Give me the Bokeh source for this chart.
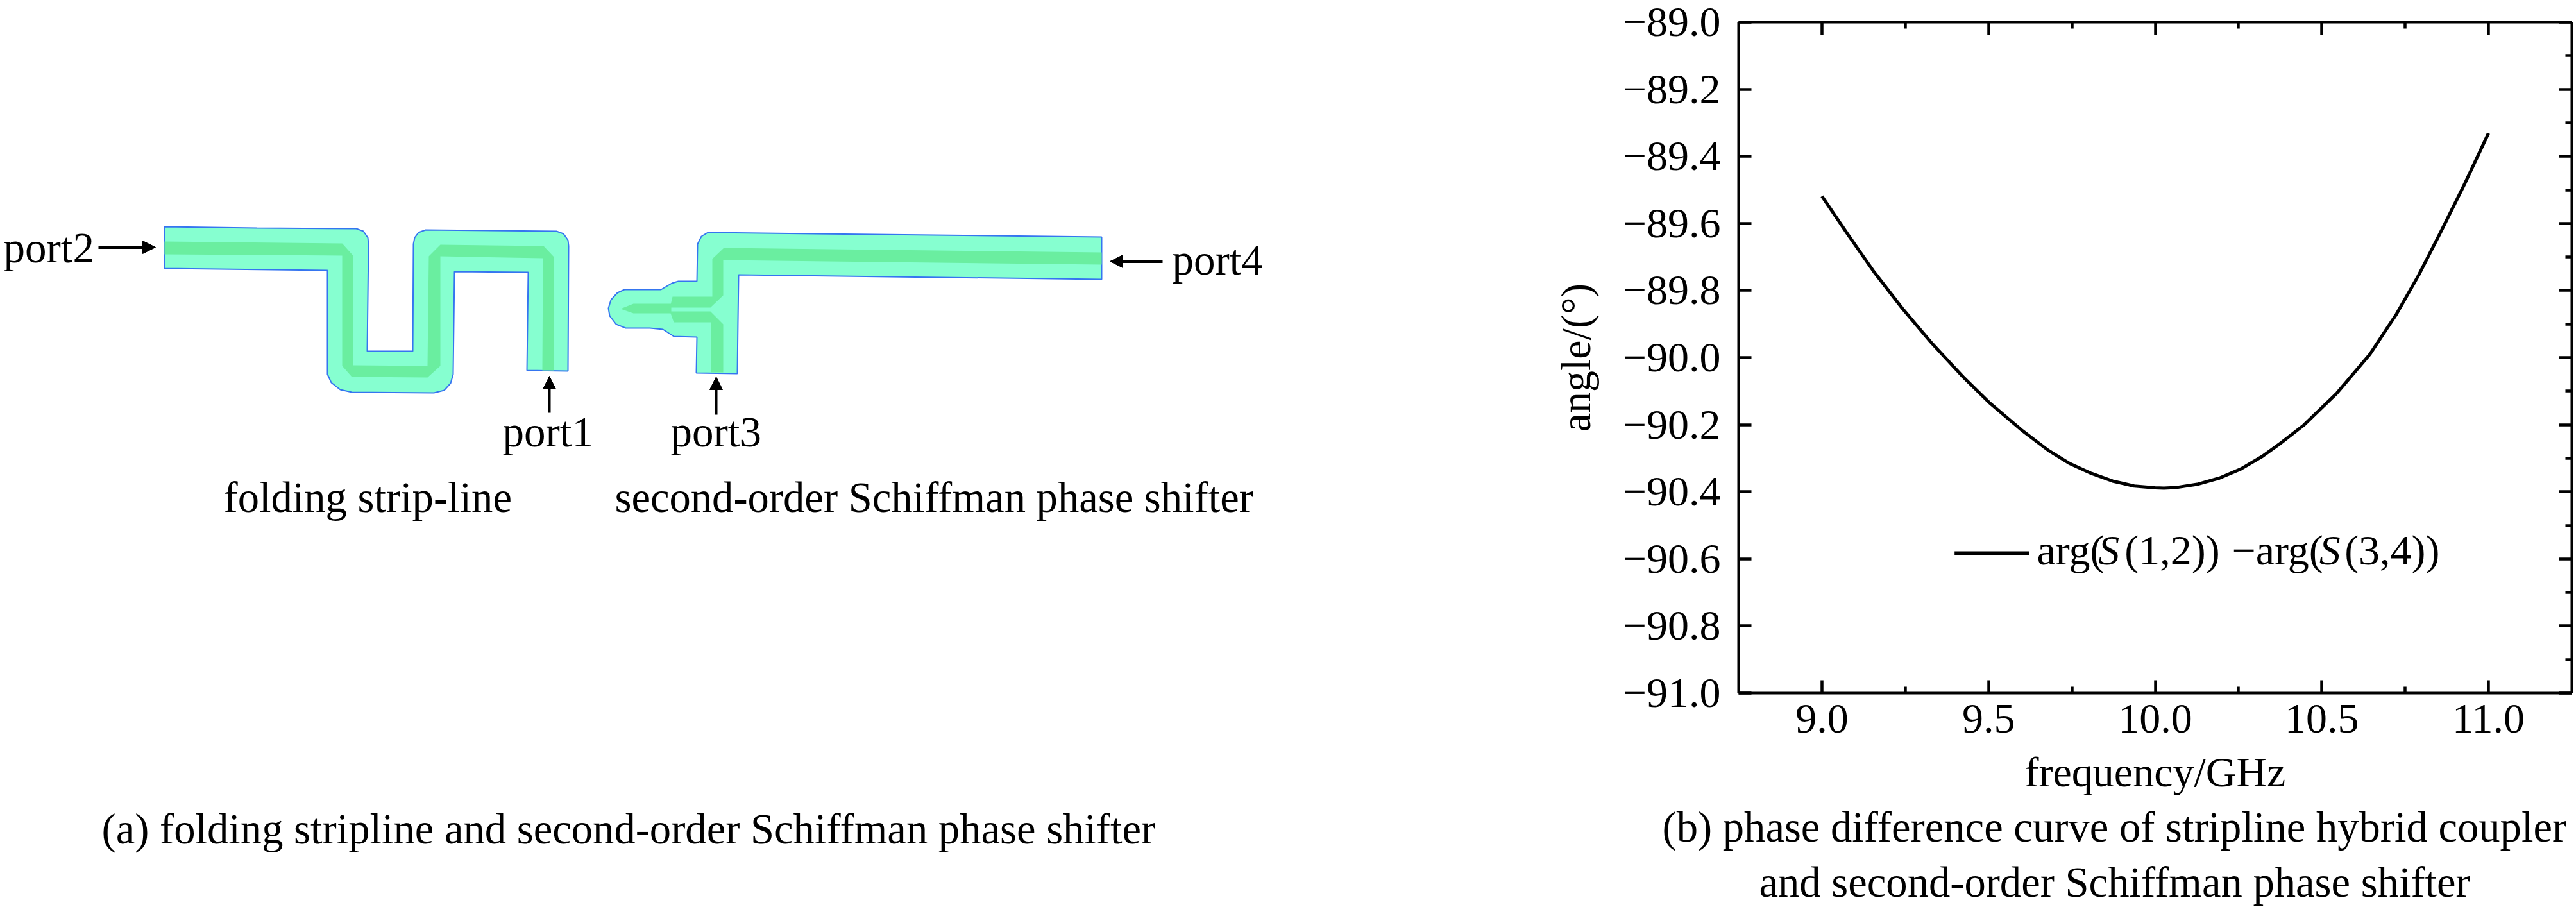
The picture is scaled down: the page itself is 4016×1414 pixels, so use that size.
from bokeh.embed import file_html
from bokeh.resources import INLINE
from bokeh.layouts import row
from bokeh.plotting import figure
from bokeh.core.properties import value
from bokeh.models import (Range1d, LinearAxis, FixedTicker, CustomJSTickFormatter,
                          Label, Arrow, NormalHead, Title)

# ---- curve data (panel b) ----
frequency = [9.0, 9.078, 9.156, 9.241, 9.326, 9.423, 9.501, 9.599, 9.68, 9.744, 9.808, 9.872, 9.937, 10.0,
             10.026, 10.065, 10.129, 10.193, 10.257, 10.322, 10.379, 10.445, 10.545, 10.644, 10.724, 10.79,
             10.856, 10.929, 11.0]
phase_diff = [-89.519, -89.633, -89.744, -89.853, -89.953, -90.057, -90.133, -90.216, -90.277, -90.316, -90.345, -90.368, -90.383, -90.388,
              -90.389, -90.387, -90.377, -90.359, -90.332, -90.294, -90.253, -90.202, -90.106, -89.99, -89.87, -89.755,
              -89.627, -89.481, -89.331]
x_ticks = [9.0, 9.5, 10.0, 10.5, 11.0]
x_minor = [9.25, 9.75, 10.25, 10.75]
x_tick_labels = ["9.0", "9.5", "10.0", "10.5", "11.0"]
y_ticks = [-89.0, -89.2, -89.4, -89.6, -89.8, -90.0, -90.2, -90.4, -90.6, -90.8, -91.0]
y_minor = [-89.1, -89.3, -89.5, -89.7, -89.9, -90.1, -90.3, -90.5, -90.7, -90.9]
y_tick_labels = ["\u221289.0", "\u221289.2", "\u221289.4", "\u221289.6", "\u221289.8", "\u221290.0",
                 "\u221290.2", "\u221290.4", "\u221290.6", "\u221290.8", "\u221291.0"]

# ---- schematic outlines (panel a), in picture coordinates ----
strip_x = [256, 400, 555, 566, 573, 574, 572, 643, 644, 646, 652, 663, 867, 878, 885, 886, 885, 821, 823, 708, 706, 702, 692, 676, 548, 530, 516, 510, 510, 256]
strip_y = [353, 355, 356, 360, 370, 380, 547, 547, 380, 370, 362, 358, 360, 364, 374, 383, 578, 577, 424, 423, 583, 597, 608, 612, 611, 607, 596, 583, 421, 418]
strip_core_x = [256, 533, 550, 550, 666, 668, 686, 847, 863, 863, 845, 846, 686, 686, 666, 548, 533, 533, 256]
strip_core_y = [376, 379, 398, 569, 570, 399, 381, 383, 400, 577, 577, 402, 399, 570, 588, 587, 570, 398, 396]
shift_x = [1103, 1717, 1717, 1151, 1150, 1149, 1085, 1086, 1050, 1033, 1013, 975, 960, 950, 948, 952, 962, 973, 1030, 1047, 1057, 1086, 1087, 1093]
shift_y = [362, 369, 435, 428, 500, 582, 581, 525, 524, 513, 511, 511, 505, 492, 480, 467, 456, 451, 451, 441, 438, 438, 380, 368]
shift_core_a_x = [1717, 1128, 1110, 1110, 1048, 1044, 1107, 1127, 1127, 1717]
shift_core_a_y = [393, 386, 403, 462, 462, 479, 479, 460, 405, 412]
shift_core_b_x = [1046, 987, 967, 987, 1046]
shift_core_b_y = [473, 473, 481, 488, 488]
shift_core_c_x = [1044, 1107, 1127, 1127, 1108, 1108, 1050]
shift_core_c_y = [485, 485, 505, 580, 580, 502, 502]

port_labels = ["port2", "port1", "port3", "port4"]
port_label_x = [5, 783, 1045, 1827]
port_label_y = [385, 672, 672, 404]
arrow_x0 = [153, 856, 1116, 1812]
arrow_y0 = [385, 643, 646, 407]
arrow_x1 = [242, 856, 1116, 1730]
arrow_y1 = [385, 586, 587, 407]
captions = ["folding strip-line", "second-order Schiffman phase shifter",
            "(a) folding stripline and second-order Schiffman phase shifter"]
caption_x = [348, 958, 158]
caption_y = [775, 775, 1292]

FONT = "Liberation Serif"
LIGHT = "#86FFD0"
DARK = "#6AEEA0"
EDGE = "#3575F0"

# ---------------- left panel ----------------
left = figure(width=2400, height=1414, output_backend="svg", toolbar_location=None,
              x_range=Range1d(0, 2400), y_range=Range1d(1414, 0),
              x_axis_type=None, y_axis_type=None, min_border=0, frame_align=False)
left.outline_line_color = None
left.grid.visible = False

left.patch(strip_x, strip_y, fill_color=LIGHT, line_color=EDGE, line_width=2)
left.patch(strip_core_x, strip_core_y, fill_color=DARK, line_color=None)
left.patch(shift_x, shift_y, fill_color=LIGHT, line_color=EDGE, line_width=2)
left.patch(shift_core_a_x, shift_core_a_y, fill_color=DARK, line_color=None)
left.patch(shift_core_b_x, shift_core_b_y, fill_color=DARK, line_color=None)
left.patch(shift_core_c_x, shift_core_c_y, fill_color=DARK, line_color=None)

for x0, y0, x1, y1 in zip(arrow_x0, arrow_y0, arrow_x1, arrow_y1):
    left.add_layout(Arrow(x_start=x0, y_start=y0, x_end=x1, y_end=y1, line_color="black",
                          line_width=5 if y0 == y1 else 4,
                          end=NormalHead(size=20, fill_color="black", line_color="black", line_width=1)))

left.text(port_label_x, port_label_y, text=port_labels, text_font=value(FONT), text_font_size="67px",
          text_baseline="alphabetic", text_align="left", text_color="black")
left.text(caption_x, caption_y, text=captions, text_font=value(FONT), text_font_size="66.6px",
          text_baseline="alphabetic", text_align="left", text_color="black")

# ---------------- right panel ----------------
right = figure(width=1616, height=1414, output_backend="svg", toolbar_location=None,
               x_range=Range1d(8.75, 11.25), y_range=Range1d(-91, -89),
               min_border_left=310, min_border_right=7, min_border_top=34, min_border_bottom=334,
               x_axis_location="below", y_axis_location="left", frame_align=False)
right.grid.visible = False
right.outline_line_color = None

right.line(frequency, phase_diff, line_color="black", line_width=5, line_join="round")

xt = FixedTicker(ticks=x_ticks, minor_ticks=x_minor)
yt = FixedTicker(ticks=y_ticks, minor_ticks=y_minor)
ax = right.xaxis[0]
ax.ticker = xt
ax.major_label_overrides = dict(zip(x_ticks, x_tick_labels))
ax.axis_label = "frequency/GHz"
ay = right.yaxis[0]
ay.ticker = yt
ay.major_label_overrides = dict(zip(y_ticks, y_tick_labels))
ay.axis_label = "angle/(\u00b0)"
blank = CustomJSTickFormatter(code="return ''")
top = LinearAxis(ticker=xt, formatter=blank, major_label_standoff=0)
rgt = LinearAxis(ticker=yt, formatter=blank, major_label_standoff=0)
right.add_layout(top, "above")
right.add_layout(rgt, "right")

for a in (ax, ay, top, rgt):
    a.axis_line_width = 4
    a.axis_line_color = "black"
    a.major_tick_line_color = "black"
    a.minor_tick_line_color = "black"
    a.major_tick_line_width = 4.5
    a.minor_tick_line_width = 4.5
    a.major_tick_in = 20
    a.major_tick_out = 0
    a.minor_tick_in = 10
    a.minor_tick_out = 0
ay.minor_tick_in = 0
ay.minor_tick_line_color = None
for a in (ax, ay):
    a.major_label_text_font = FONT
    a.major_label_text_font_size = "66px"
    a.major_label_text_color = "black"
    a.axis_label_text_font = FONT
    a.axis_label_text_font_size = "66px"
    a.axis_label_text_font_style = "normal"
    a.axis_label_text_color = "black"
ax.major_label_standoff = 18
ax.axis_label_standoff = 22
ay.major_label_standoff = 28
ay.axis_label_standoff = 34

# legend sample and its text, with the italic S set apart
legend_x = [9.398, 9.622]
legend_y = [-90.583, -90.583]
right.line(legend_x, legend_y, line_color="black", line_width=6)
legend_parts = ["arg(", "S", "(1,2))", "\u2212arg(", "S", "(3,4))"]
legend_part_x = [9.645, 9.829, 9.908, 10.23, 10.492, 10.568]
legend_part_style = ["normal", "italic", "normal", "normal", "italic", "normal"]
legend_baseline = -90.574
for t, xx, st in zip(legend_parts, legend_part_x, legend_part_style):
    right.add_layout(Label(x=xx, y=legend_baseline, text=t, text_font=FONT, text_font_size="66px", text_font_style=st,
                           text_baseline="alphabetic", text_align="left", text_color="black"))

cap_lines = ["(b) phase difference curve of stripline hybrid coupler",
             "and second-order Schiffman phase shifter"]
cap_offset = [-119, 32]
cap_standoff = [17, 5]
for t, off, so in zip(cap_lines, cap_offset, cap_standoff):
    right.add_layout(Title(text=t, align="left", offset=off, standoff=so, text_font=FONT, text_font_size="66.6px",
                           text_font_style="normal", text_color="black"), "below")

page = row(left, right, spacing=0)
open("out.html", "w").write(file_html(page, INLINE))
